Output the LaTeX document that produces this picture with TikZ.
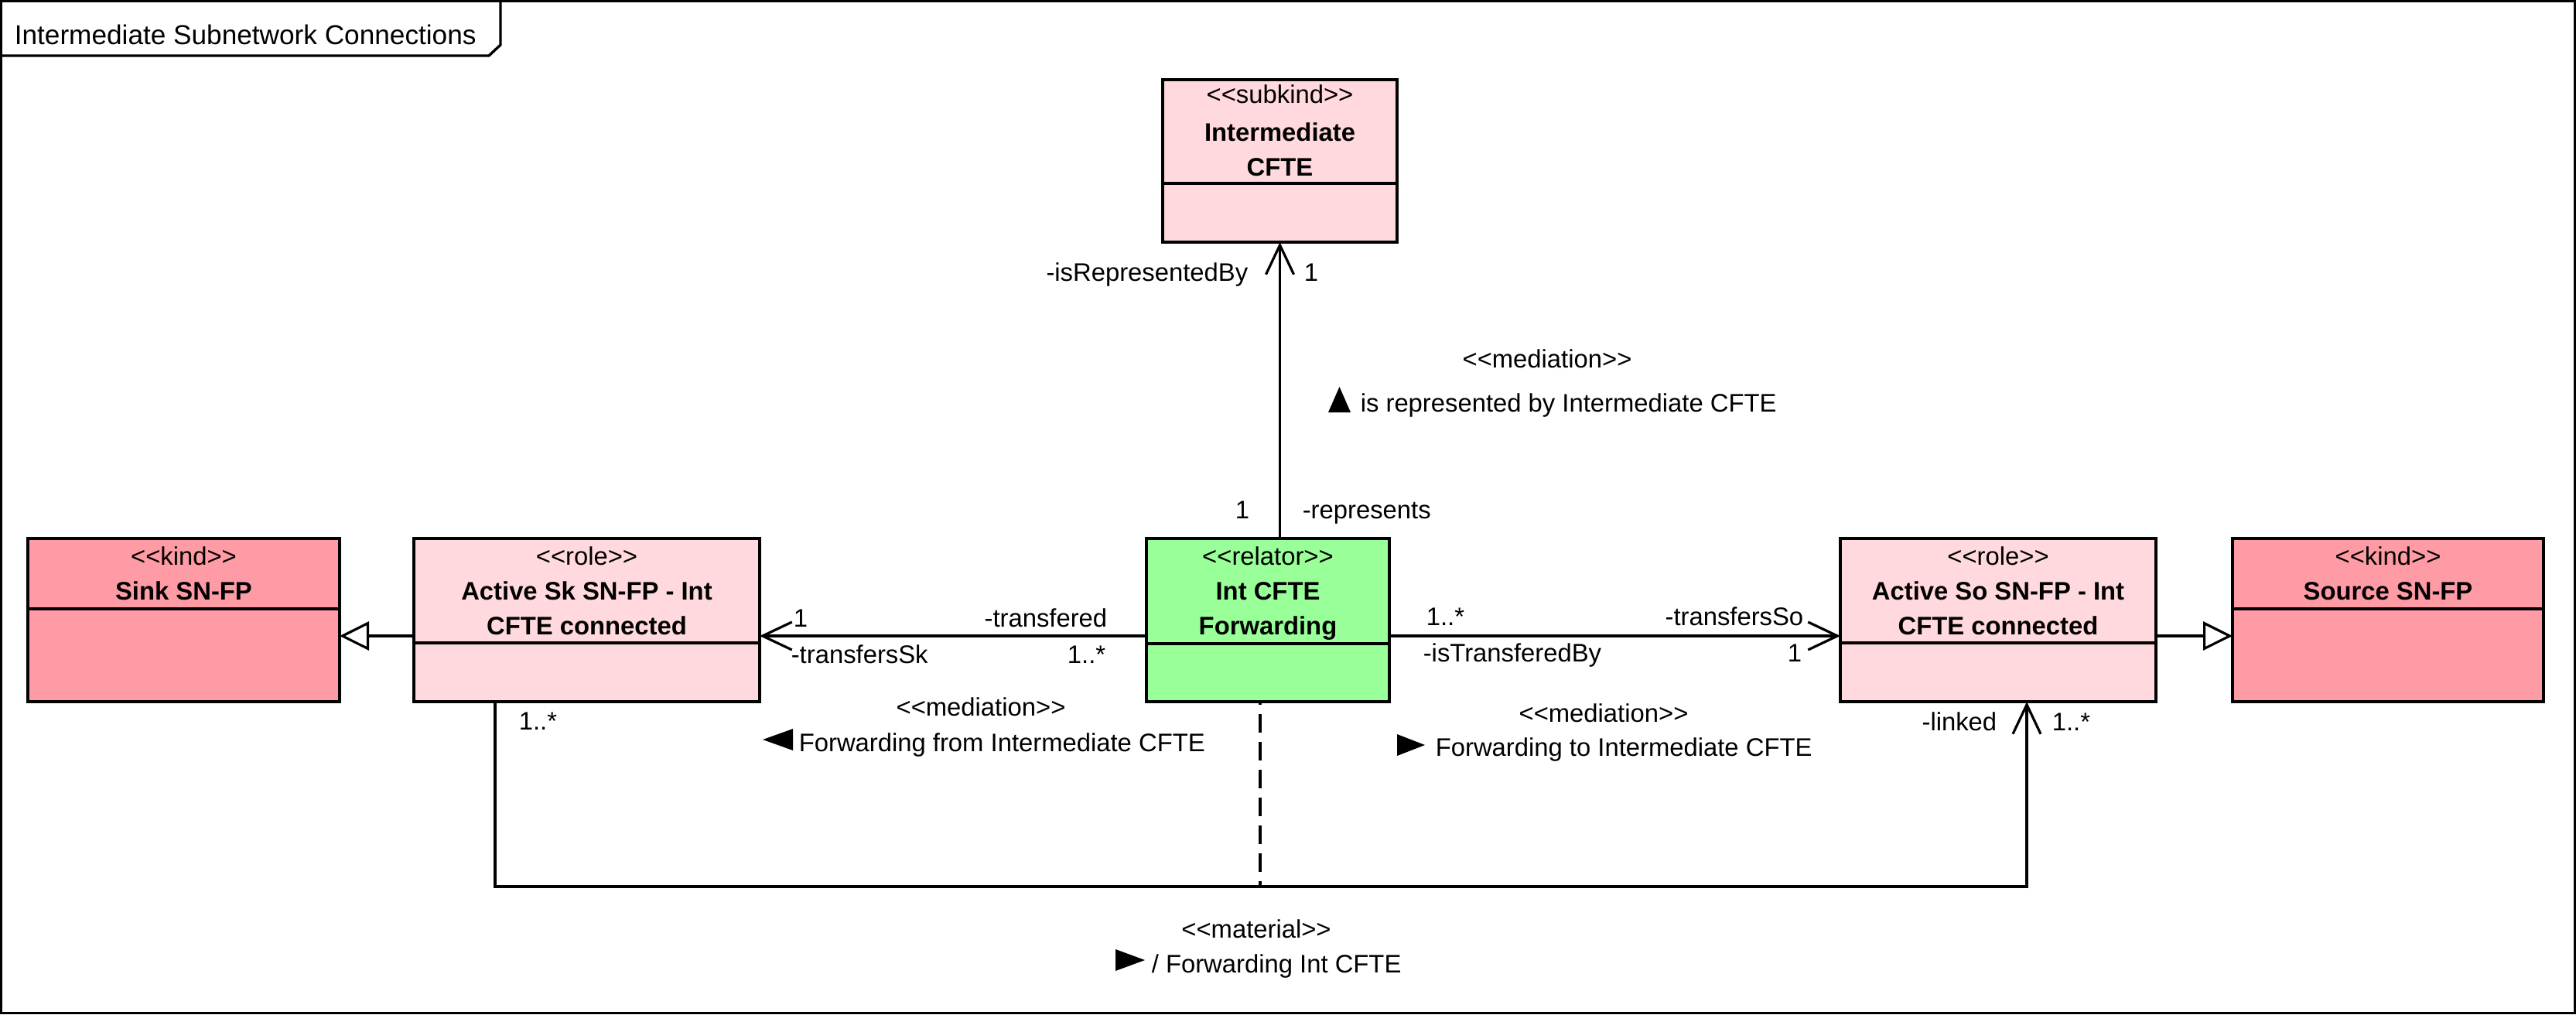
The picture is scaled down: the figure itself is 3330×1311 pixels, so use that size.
\documentclass[tikz,border=0pt]{standalone}
\usepackage{fontspec}
\newfontfamily\lsans{Liberation Sans}
\usetikzlibrary{arrows.meta,fit,calc}
\definecolor{pinkL}{RGB}{255,217,221}
\definecolor{pinkD}{RGB}{255,155,165}
\definecolor{greenR}{RGB}{153,255,153}
\begin{document}
\begin{tikzpicture}[x=0.25pt,y=-0.25pt,
  font=\lsans\fontsize{8.2}{9.8}\selectfont,
  umlbox/.style={draw, line width=0.85pt, inner sep=0pt, outer sep=0pt},
  stereo/.style={anchor=base, inner sep=0pt},
  cname/.style={anchor=base, inner sep=0pt, font=\lsans\bfseries\fontsize{8.2}{9.8}\selectfont},
  lblw/.style={anchor=base west, inner sep=0pt},
  lble/.style={anchor=base east, inner sep=0pt},
  lblc/.style={anchor=base, inner sep=0pt},
  divider/.style={line width=0.85pt},
  assoc/.style={line width=0.8pt, -{Straight Barb[length=9.5pt,width=9pt]}},
  gen/.style={line width=0.8pt, -{Triangle[length=9.5pt,width=9.25pt,fill=white]}},
  dashline/.style={line width=0.8pt, dash pattern=on 6pt off 3pt, dash phase=-4pt},
  frameline/.style={line width=0.85pt}
]
\useasboundingbox (0,0) rectangle (3330,1311);
\fill[white] (0,0) rectangle (3330,1311);

% frame and tab
\draw[frameline] (1.7,1.7) rectangle (3328.3,1309.3);
\draw[frameline] (1.7,72) -- (632,72) -- (647,58) -- (647,1.7);
\node[anchor=base west, inner sep=0pt, font=\lsans\fontsize{8.8}{10.5}\selectfont] (title) at (18,57) {Intermediate Subnetwork Connections};

% boxes
\node[umlbox, fill=pinkL, fit={(1503,103)(1806,313)}] (icfte) {};
\node[umlbox, fill=pinkD, fit={(36,696)(439,907)}] (sink) {};
\node[umlbox, fill=pinkL, fit={(535,696)(982,907)}] (ask) {};
\node[umlbox, fill=greenR, fit={(1482,696)(1796,907)}] (rel) {};
\node[umlbox, fill=pinkL, fit={(2379,696)(2787,907)}] (aso) {};
\node[umlbox, fill=pinkD, fit={(2886,696)(3288,907)}] (src) {};

% dividers
\draw[divider] ($(icfte.north west)+(0,134)$) -- ($(icfte.north east)+(0,134)$);
\draw[divider] ($(sink.north west)+(0,91)$) -- ($(sink.north east)+(0,91)$);
\draw[divider] ($(ask.north west)+(0,135)$) -- ($(ask.north east)+(0,135)$);
\draw[divider] ($(rel.north west)+(0,136)$) -- ($(rel.north east)+(0,136)$);
\draw[divider] ($(aso.north west)+(0,135)$) -- ($(aso.north east)+(0,135)$);
\draw[divider] ($(src.north west)+(0,91)$) -- ($(src.north east)+(0,91)$);

% box texts
\node[stereo] (icfteS) at ($(icfte.north)+(0,30)$) {<<subkind>>};
\node[cname] (icfteN1) at ($(icfte.north)+(0,79)$) {Intermediate};
\node[cname] (icfteN2) at ($(icfte.north)+(0,124)$) {CFTE};

\node[stereo] (sinkS) at ($(sink.north)+(0,34)$) {<<kind>>};
\node[cname] (sinkN) at ($(sink.north)+(0,79)$) {Sink SN-FP};

\node[stereo] (askS) at ($(ask.north)+(0,34)$) {<<role>>};
\node[cname] (askN1) at ($(ask.north)+(0,79)$) {Active Sk SN-FP - Int};
\node[cname] (askN2) at ($(ask.north)+(0,124)$) {CFTE connected};

\node[stereo] (relS) at ($(rel.north)+(0,34)$) {<<relator>>};
\node[cname] (relN1) at ($(rel.north)+(0,79)$) {Int CFTE};
\node[cname] (relN2) at ($(rel.north)+(0,124)$) {Forwarding};

\node[stereo] (asoS) at ($(aso.north)+(0,34)$) {<<role>>};
\node[cname] (asoN1) at ($(aso.north)+(0,79)$) {Active So SN-FP - Int};
\node[cname] (asoN2) at ($(aso.north)+(0,124)$) {CFTE connected};

\node[stereo] (srcS) at ($(src.north)+(0,34)$) {<<kind>>};
\node[cname] (srcN) at ($(src.north)+(0,79)$) {Source SN-FP};

% helper coordinates
\coordinate (yL) at (0,822);
\coordinate (mL) at (640,1146);
\coordinate (mR) at (2620,1146);
\coordinate (dX) at (1629,1146);

% connectors
\draw[assoc] (rel.north -| icfte.south) -- (icfte.south);
\draw[assoc] (rel.west |- yL) -- (ask.east |- yL);
\draw[assoc] (rel.east |- yL) -- (aso.west |- yL);
\draw[gen] (ask.west |- yL) -- (sink.east |- yL);
\draw[gen] (aso.east |- yL) -- (src.west |- yL);
\draw[assoc] (ask.south -| mL) -- (mL) -- (mR) -- (aso.south -| mR);
\draw[dashline] (rel.south -| dX) -- (dX);

% vertical association labels
\node[lble] (l1) at (1614,363) {-isRepresentedBy};
\node[lblw] (l2) at (1685,363) {1};
\node[lble] (l3) at (1616,670) {1};
\node[lblw] (l4) at (1683,670) {-represents};
\node[lblc] (l5) at (2000,475) {<<mediation>>};
\node[lblw] (l6) at (1758,532) {is represented by Intermediate CFTE};
\fill (1717,533) -- (1746,533) -- (1731.5,500) -- cycle;

% left association labels
\node[lblw] (l7) at (1025,810) {1};
\node[lble] (l8) at (1432,810) {-transfered};
\node[lblw] (l9) at (1022,857) {-transfersSk};
\node[lble] (l10) at (1430,857) {1..*};
\node[lblc] (l11) at (1268,925) {<<mediation>>};
\node[lblw] (l12) at (1032,971) {Forwarding from Intermediate CFTE};
\fill (1025,942) -- (1025,970) -- (986,956) -- cycle;

% right association labels
\node[lblw] (l13) at (1843,808) {1..*};
\node[lble] (l14) at (2332,808) {-transfersSo};
\node[lblw] (l15) at (1839,855) {-isTransferedBy};
\node[lble] (l16) at (2330,855) {1};
\node[lblc] (l17) at (2073,933) {<<mediation>>};
\node[lblw] (l18) at (1855,977) {Forwarding to Intermediate CFTE};
\fill (1806,949) -- (1806,977) -- (1842,963) -- cycle;

% material association labels
\node[lblw] (l19) at (670,943) {1..*};
\node[lble] (l20) at (2582,944) {-linked};
\node[lblw] (l21) at (2652,944) {1..*};
\node[lblc] (l22) at (1624,1212) {<<material>>};
\node[lblw] (l23) at (1488,1257) {/ Forwarding Int CFTE};
\fill (1442,1227) -- (1442,1255) -- (1480,1241) -- cycle;
\end{tikzpicture}
\end{document}
